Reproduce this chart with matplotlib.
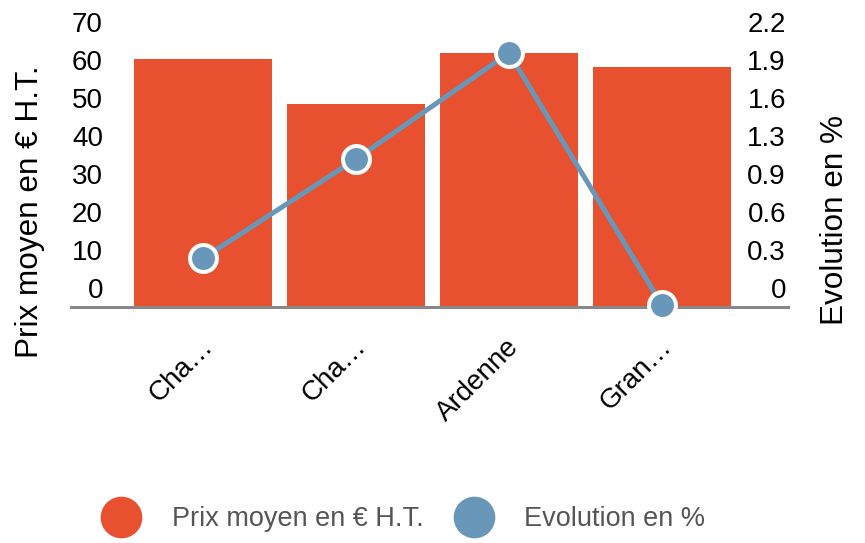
import matplotlib
matplotlib.use("Agg")
import matplotlib.pyplot as plt
import matplotlib.transforms as mtransforms
from matplotlib.lines import Line2D
import numpy as np

# ---- data ----
categories = ["Cha…", "Cha…", "Ardenne", "Gran…"]
prix = [65.3, 53.5, 66.9, 63.2]
evolution = [0.403, 1.225, 2.103, 0.017]
left_ticks = [0, 10, 20, 30, 40, 50, 60, 70]
right_tick_labels = ["0", "0.3", "0.6", "0.9", "1.3", "1.6", "1.9", "2.2"]

# ---- style ----
BAR = "#e8512f"
LINE = "#6897b9"
AXIS = "#888888"
plt.rcParams["font.family"] = ["Liberation Sans", "DejaVu Sans"]

W, H = 865, 543
fig = plt.figure(figsize=(W / 100, H / 100), dpi=100)
L, R, B, T = 71, 788, 307, 41.3
ax = fig.add_axes([L / W, 1 - B / H, (R - L) / W, (B - T) / H])
ax2 = ax.twinx()

x = np.arange(len(categories))
ax.bar(x, prix, width=0.9, color=BAR, zorder=2)
ax.set_xlim(-0.863, 3.824)
ax.set_ylim(0, 70)
ax2.set_ylim(0, 2.2)

ax2.plot(x, evolution, color=LINE, lw=3.6, marker="o", ms=19.4,
         mfc=LINE, mec="white", mew=2.9, clip_on=False, zorder=5)

for a in (ax, ax2):
    for s in a.spines.values():
        s.set_visible(False)
ax.spines["bottom"].set_visible(True)
ax.spines["bottom"].set_color(AXIS)
ax.spines["bottom"].set_linewidth(2.2)
ax.spines["bottom"].set_zorder(3)

TICK_FS = 20
# left ticks
ax.set_yticks(left_ticks)
ax.set_yticklabels([str(v) for v in left_ticks])
ax.tick_params(axis="y", length=0, pad=-23, labelsize=TICK_FS)
# right ticks
rt = np.linspace(0, 2.2, len(right_tick_labels))
ax2.set_yticks(rt)
ax2.set_yticklabels(right_tick_labels)
ax2.tick_params(axis="y", length=0, pad=-1.5, labelsize=TICK_FS)

up = mtransforms.ScaledTranslation(0, 9.3 / 100, fig.dpi_scale_trans)
for lab in ax.get_yticklabels():
    lab.set_va("baseline")
    lab.set_transform(lab.get_transform() + up)
for lab in ax2.get_yticklabels():
    lab.set_va("baseline")
    lab.set_ha("right")
    lab.set_transform(lab.get_transform() + up)

# x ticks
ax.set_xticks(x)
ax.set_xticklabels(categories)
ax.tick_params(axis="x", length=0, pad=19, labelsize=TICK_FS)
shift = mtransforms.ScaledTranslation(-3 / 100, 0, fig.dpi_scale_trans)
for lab in ax.get_xticklabels():
    lab.set_rotation(45)
    lab.set_ha("right")
    lab.set_va("top")
    lab.set_rotation_mode("anchor")
    lab.set_transform(lab.get_transform() + shift)

# axis titles
fig.text(30 / W, 1 - 212 / H, "Prix moyen en € H.T.", rotation=90,
         ha="center", va="center", fontsize=22.7)
fig.text(835 / W, 1 - 220 / H, "Evolution en %", rotation=90,
         ha="center", va="center", fontsize=22.7)

# legend
handles = [Line2D([], [], ls="none", marker="o", ms=30, mfc=BAR, mec=BAR, mew=0),
           Line2D([], [], ls="none", marker="o", ms=30, mfc=LINE, mec=LINE, mew=0)]
leg = fig.legend(handles, ["Prix moyen en € H.T.", "Evolution en %"],
                 loc="center left", bbox_to_anchor=(100.5 / W, 1 - 519 / H),
                 ncol=2, frameon=False, handlelength=1.55, handletextpad=1.09,
                 columnspacing=1.07, borderaxespad=0, borderpad=0,
                 prop={"size": 19.5})
for t in leg.get_texts():
    t.set_color("#555555")

fig.savefig("out.png", dpi=100)
